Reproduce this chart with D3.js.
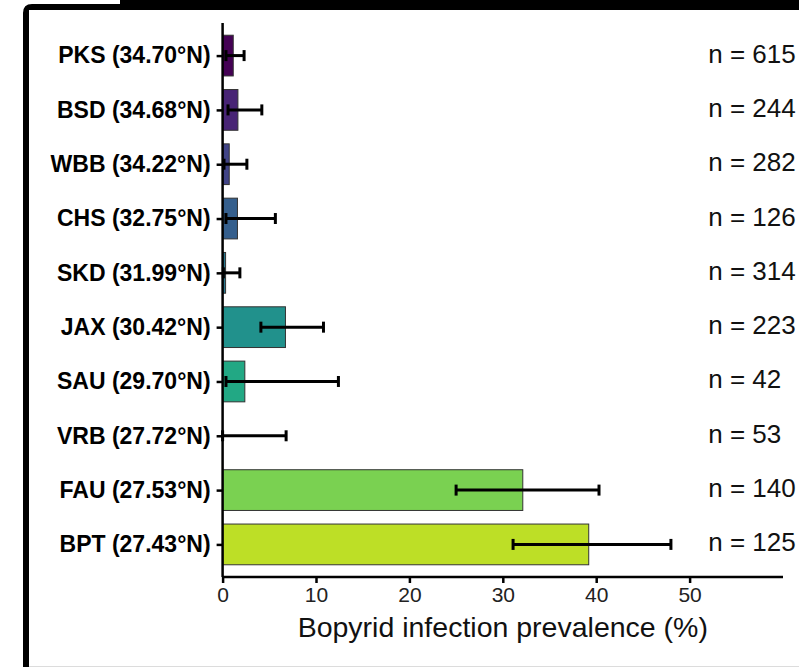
<!DOCTYPE html>
<html>
<head>
<meta charset="utf-8">
<script src="https://cdn.jsdelivr.net/npm/d3@7"></script>
<style>
  html, body { margin: 0; padding: 0; background: #fff; }
  svg { display: block; }
</style>
</head>
<body>
<svg id="chart" width="799" height="667"></svg>
<script>
// Sampling sites, ordered north to south
const sites = [
  "PKS (34.70°N)", "BSD (34.68°N)", "WBB (34.22°N)", "CHS (32.75°N)", "SKD (31.99°N)",
  "JAX (30.42°N)", "SAU (29.70°N)", "VRB (27.72°N)", "FAU (27.53°N)", "BPT (27.43°N)"
];
// Infection prevalence (%) and its confidence interval
const prevalence = [1.14, 1.64, 0.71, 1.59, 0.32, 6.73, 2.38, 0, 32.14, 39.2];
const ciLow      = [0.36, 0.58, 0.15, 0.36, 0.08, 4.1, 0.36, 0, 25.0, 31.1];
const ciHigh     = [2.3, 4.2, 2.6, 5.65, 1.85, 10.8, 12.4, 6.8, 40.3, 48.0];
// Number of crabs examined per site
const sampleSizes = [615, 244, 282, 126, 314, 223, 42, 53, 140, 125];
const xTicks = [0, 10, 20, 30, 40, 50];

const svg = d3.select("#chart");
const font = "'Liberation Sans', Arial, Helvetica, sans-serif";

// Frame around the figure
svg.append("path")
  .attr("d", "M23,667 V13 Q23,4 32,4 H120 V0 H799 V10 H29 V667 Z")
  .attr("fill", "#000");
svg.append("line")
  .attr("x1", 29).attr("x2", 799).attr("y1", 666.5).attr("y2", 666.5)
  .attr("stroke", "#dcdcdc").attr("stroke-width", 1);

const panel = { left: 222.6, right: 783, top: 23, bottom: 577 };

const x = d3.scaleLinear().domain([0, 60]).range([panel.left, panel.right]);
const y = d3.scalePoint().domain(sites).range([panel.top, panel.bottom]).padding(0.6);
const barH = y.step() * 0.75;

const color = d3.scaleOrdinal()
  .domain(sites)
  .range(sites.map((d, i) => d3.interpolateViridis(i * 0.1)));

const rows = sites.map((s, i) => ({
  site: s, value: prevalence[i], lo: ciLow[i], hi: ciHigh[i], n: sampleSizes[i]
}));

// Bars
svg.append("g").selectAll("rect").data(rows).join("rect")
  .attr("x", x(0))
  .attr("y", d => y(d.site) - barH / 2)
  .attr("width", d => x(d.value) - x(0))
  .attr("height", barH)
  .attr("fill", d => color(d.site))
  .attr("stroke", d => d.value > 0 ? "#333" : "none")
  .attr("stroke-width", 1);

// Error bars
const eb = svg.append("g").attr("stroke", "#000").attr("stroke-width", 3);
eb.selectAll("line.h").data(rows).join("line").attr("class", "h")
  .attr("x1", d => x(d.lo)).attr("x2", d => x(d.hi))
  .attr("y1", d => y(d.site)).attr("y2", d => y(d.site));
eb.selectAll("line.cl").data(rows).join("line").attr("class", "cl")
  .attr("x1", d => x(d.lo)).attr("x2", d => x(d.lo))
  .attr("y1", d => y(d.site) - 5.5).attr("y2", d => y(d.site) + 5.5);
eb.selectAll("line.ch").data(rows).join("line").attr("class", "ch")
  .attr("x1", d => x(d.hi)).attr("x2", d => x(d.hi))
  .attr("y1", d => y(d.site) - 5.5).attr("y2", d => y(d.site) + 5.5);

// Sample size labels
svg.append("g").selectAll("text").data(rows).join("text")
  .attr("x", x(52))
  .attr("y", d => y(d.site) + 7)
  .attr("font-family", font)
  .attr("font-size", 26)
  .attr("fill", "#111")
  .text(d => `n = ${d.n}`);

// Y axis
const yAxis = svg.append("g")
  .attr("transform", `translate(${panel.left},0)`)
  .call(d3.axisLeft(y).tickSize(6).tickPadding(6));
yAxis.select(".domain")
  .attr("d", `M0,${panel.top}V${panel.bottom}`)
  .attr("stroke", "#000").attr("stroke-width", 2.5);
yAxis.selectAll(".tick line").attr("stroke", "#000").attr("stroke-width", 2.5);
yAxis.selectAll(".tick text")
  .attr("font-family", font).attr("font-size", 23).attr("font-weight", "bold")
  .attr("fill", "#000");

// X axis
const xAxis = svg.append("g")
  .attr("transform", `translate(0,${panel.bottom})`)
  .call(d3.axisBottom(x).tickValues(xTicks).tickSize(6).tickPadding(4));
xAxis.select(".domain")
  .attr("d", `M${panel.left},0H${panel.right}`)
  .attr("stroke", "#000").attr("stroke-width", 2.5);
xAxis.selectAll(".tick line").attr("stroke", "#000").attr("stroke-width", 2.5);
xAxis.selectAll(".tick text")
  .attr("font-family", font).attr("font-size", 21).attr("fill", "#222");

// Axis title
svg.append("text")
  .attr("x", (panel.left + panel.right) / 2)
  .attr("y", 637)
  .attr("text-anchor", "middle")
  .attr("font-family", font)
  .attr("font-size", 28.5)
  .attr("fill", "#111")
  .text("Bopyrid infection prevalence (%)");
</script>
</body>
</html>
